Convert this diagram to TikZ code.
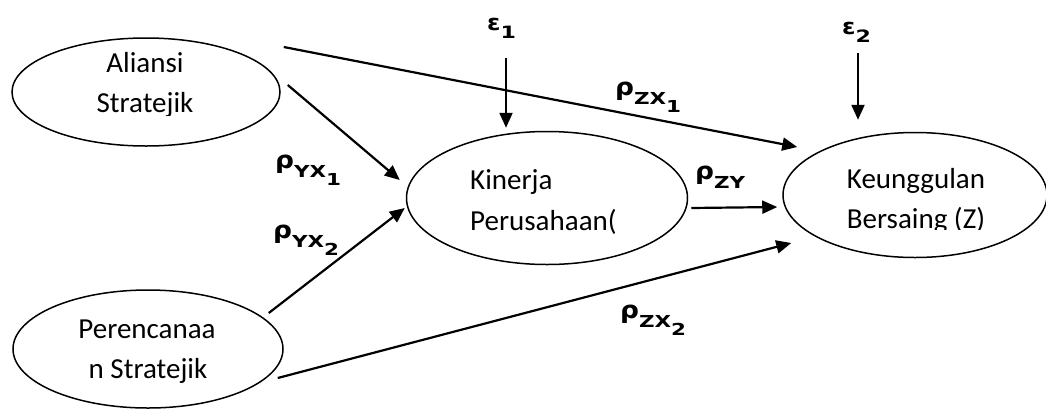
\documentclass[tikz,border=0pt]{standalone}
\usepackage{fontspec}
\setmainfont{Carlito}
\newfontfamily\rhofont[FakeStretch=1.1]{DejaVu Sans}
\newfontfamily\subfont[FakeStretch=1.3]{DejaVu Sans}
\usetikzlibrary{shapes.geometric,arrows.meta}
\newcommand\coefrho[2]{{\rhofont\bfseries\fontsize{24}{24}\selectfont ρ}\raisebox{-9pt}{\subfont\bfseries\fontsize{16.5}{16.5}\selectfont #1\raisebox{-8pt}{#2}}}
\newcommand\coeferr[1]{{\rhofont\bfseries\fontsize{22}{22}\selectfont ε}\raisebox{-8pt}{\subfont\bfseries\fontsize{17}{17}\selectfont #1}}
\begin{document}
\begin{tikzpicture}[x=1pt,y=-1pt,
  oval/.style={draw, ellipse, line width=1.5pt, inner sep=0pt},
  lbl/.style={font=\fontsize{29}{29}\selectfont, inner sep=0pt, anchor=base},
  conn/.style={line width=2.2pt, -{Triangle[length=15pt,width=13pt]}},
  coef/.style={inner sep=0pt, anchor=base west}
]
\useasboundingbox (0,0) rectangle (1046,410);

% ellipses
\node[oval, minimum width=268pt, minimum height=108pt] (A) at (146,92) {};
\node[oval, minimum width=270pt, minimum height=118pt] (P) at (148,349) {};
\node[oval, minimum width=281pt, minimum height=133pt] (K) at (547,198) {};
\node[oval, minimum width=264pt, minimum height=125pt] (Z) at (915,195) {};

% texts
\node[lbl] (a1) at (145,72) {Aliansi};
\begin{scope}
\clip (0,0) rectangle (1046,115);
\node[lbl] (a2) at (145,112) {Stratejik};
\end{scope}
\node[lbl] (p1) at (147,338) {Perencanaa};
\begin{scope}
\clip (0,0) rectangle (1046,382);
\node[lbl] (p2) at (148,378) {n Stratejik};
\end{scope}
\node[lbl, anchor=base west] (k1) at (470,189) {Kinerja};
\begin{scope}
\clip (0,0) rectangle (1046,233);
\node[lbl, anchor=base west] (k2) at (470,230) {Perusahaan(};
\end{scope}
\node[lbl] (z1) at (916,188) {Keunggulan};
\begin{scope}
\clip (0,0) rectangle (1046,229);
\node[lbl] (z2) at (916,228) {Bersaing (Z)};
\end{scope}

% error terms
\node[coef] (e1) at (487,30) {\coeferr{1}};
\node[coef] (e2) at (842,34) {\coeferr{2}};
\coordinate (e1s) at (506,58);
\coordinate (e2s) at (858,53);

% connectors
\draw[conn] ([shift={(7,-7)}]A.east) -- ([shift={(-6,-18)}]K.west);
\draw[conn] ([shift={(-15,-36)}]P.east) -- ([shift={(-1,10)}]K.west);
\draw[conn] ([shift={(3,-45)}]A.east) -- ([shift={(15,-48)}]Z.west);
\draw[conn] ([shift={(-6,29)}]P.east) -- ([shift={(9,48)}]Z.west);
\draw[conn] ([shift={(3,10)}]K.east) -- ([shift={(-5,12)}]Z.west);
\draw[conn] (e1s) -- ([shift={(-41,-3)}]K.north);
\draw[conn] (e2s) -- ([shift={(-57,-12)}]Z.north);

% coefficients
\node[coef] (c1) at (615,95) {\coefrho{ZX}{1}};
\node[coef] (c2) at (275,168) {\coefrho{YX}{1}};
\node[coef] (c3) at (273,238) {\coefrho{YX}{2}};
\node[coef] (c4) at (695,179) {\coefrho{ZY}{}};
\node[coef] (c5) at (620,318) {\coefrho{ZX}{2}};
\end{tikzpicture}
\end{document}
